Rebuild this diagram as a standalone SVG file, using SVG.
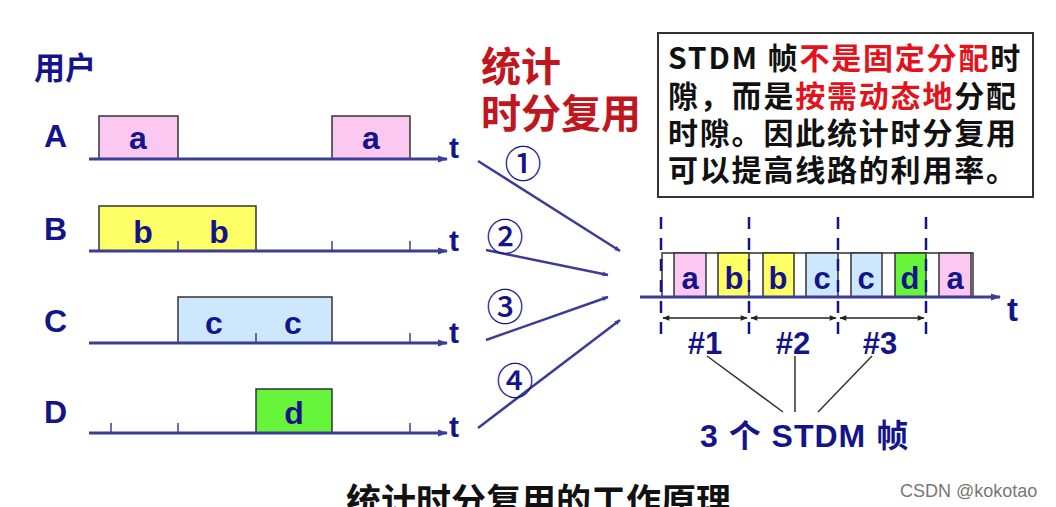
<svg xmlns="http://www.w3.org/2000/svg" width="1056" height="507" viewBox="0 0 1056 507">
<defs>
<style>
.lbl{font-family:"Liberation Sans","Noto Sans CJK SC",sans-serif;font-weight:bold;fill:#14148a}
.cjk{font-family:"Noto Sans CJK SC","Liberation Sans",sans-serif;font-weight:bold}
.axis{stroke:#3c3c96;stroke-width:3;fill:none}
.tick{stroke:#3c3c96;stroke-width:1.5}
.slot{stroke:#333;stroke-width:1.5}
.pink{fill:#fbc8f2}
.yel{fill:#ffff66}
.blu{fill:#cde8fc}
.grn{fill:#66f53a}
.wht{fill:#fff}
.conn{stroke:#3c3c96;stroke-width:2.5;fill:none}
.dash{stroke:#14148a;stroke-width:2.5;stroke-dasharray:12 9}
.dim{stroke:#222;stroke-width:1.3}
.lead{stroke:#333;stroke-width:1.5}
.circ{font-family:"Noto Sans CJK SC","DejaVu Sans",sans-serif;font-weight:500;fill:#14148a;font-size:37px}
.note{font-size:30px;letter-spacing:1.8px;fill:#111}
</style>
<marker id="ah" viewBox="0 0 10 10" refX="9" refY="5" markerWidth="6" markerHeight="6" orient="auto-start-reverse" markerUnits="userSpaceOnUse">
<path d="M0,1 L10,5 L0,9 z" fill="#3c3c96"/>
</marker>
<marker id="ah2" viewBox="0 0 10 10" refX="9" refY="5" markerWidth="14" markerHeight="10" orient="auto" markerUnits="userSpaceOnUse">
<path d="M0,1.5 L10,5 L0,8.5 z" fill="#3c3c96"/>
</marker>
<marker id="da" viewBox="0 0 10 10" refX="9" refY="5" markerWidth="9" markerHeight="7" orient="auto-start-reverse" markerUnits="userSpaceOnUse">
<path d="M0,1 L10,5 L0,9 z" fill="#222"/>
</marker>
</defs>
<rect width="1056" height="507" fill="#fff"/>

<text class="cjk" x="34" y="79" font-size="31" fill="#14148a">用户</text>

<g id="userA">
<text class="lbl" x="44" y="147" font-size="32">A</text>
<rect class="slot pink" x="99" y="116" width="79" height="43"/>
<rect class="slot pink" x="332" y="116" width="78" height="43"/>
<text class="lbl" x="138" y="149" font-size="32" text-anchor="middle">a</text>
<text class="lbl" x="371" y="149" font-size="32" text-anchor="middle">a</text>
<line class="axis" x1="89" y1="159" x2="447" y2="159" marker-end="url(#ah2)"/>
<text class="lbl" x="449" y="158" font-size="30">t</text>
</g>

<g id="userB">
<text class="lbl" x="44" y="240" font-size="32">B</text>
<rect class="slot yel" x="99" y="206" width="157" height="45"/>
<text class="lbl" x="143" y="243" font-size="32" text-anchor="middle">b</text>
<text class="lbl" x="219" y="243" font-size="32" text-anchor="middle">b</text>
<line class="tick" x1="178" y1="241" x2="178" y2="251"/>
<line class="tick" x1="332" y1="241" x2="332" y2="251"/>
<line class="tick" x1="410" y1="241" x2="410" y2="251"/>
<line class="axis" x1="89" y1="251" x2="447" y2="251" marker-end="url(#ah2)"/>
<text class="lbl" x="449" y="251" font-size="30">t</text>
</g>

<g id="userC">
<text class="lbl" x="44" y="332" font-size="32">C</text>
<rect class="slot blu" x="178" y="297" width="154" height="46"/>
<text class="lbl" x="214" y="334" font-size="32" text-anchor="middle">c</text>
<text class="lbl" x="293" y="334" font-size="32" text-anchor="middle">c</text>
<line class="tick" x1="256" y1="333" x2="256" y2="343"/>
<line class="tick" x1="410" y1="333" x2="410" y2="343"/>
<line class="axis" x1="89" y1="343" x2="447" y2="343" marker-end="url(#ah2)"/>
<text class="lbl" x="449" y="343" font-size="30">t</text>
</g>

<g id="userD">
<text class="lbl" x="44" y="423" font-size="32">D</text>
<rect class="slot grn" x="256" y="389" width="76" height="44"/>
<text class="lbl" x="294" y="424" font-size="32" text-anchor="middle">d</text>
<line class="tick" x1="111" y1="423" x2="111" y2="433"/>
<line class="tick" x1="178" y1="423" x2="178" y2="433"/>
<line class="tick" x1="410" y1="423" x2="410" y2="433"/>
<line class="axis" x1="89" y1="433" x2="447" y2="433" marker-end="url(#ah2)"/>
<text class="lbl" x="449" y="437" font-size="30">t</text>
</g>

<g id="title">
<text class="cjk" x="481" y="81" font-size="40" fill="#c0161e">统计</text>
<text class="cjk" x="481" y="128" font-size="40" fill="#c0161e">时分复用</text>
</g>

<g id="connectors">
<line class="conn" x1="478" y1="161" x2="620" y2="251" marker-end="url(#ah)"/>
<line class="conn" x1="486" y1="250" x2="608" y2="275" marker-end="url(#ah)"/>
<line class="conn" x1="486" y1="340" x2="608" y2="297" marker-end="url(#ah)"/>
<line class="conn" x1="478" y1="428" x2="620" y2="320" marker-end="url(#ah)"/>
<text class="circ" x="523" y="178" text-anchor="middle">①</text>
<text class="circ" x="505" y="251" text-anchor="middle">②</text>
<text class="circ" x="505" y="321" text-anchor="middle">③</text>
<text class="circ" x="515" y="395" text-anchor="middle">④</text>
<line class="lead" x1="707" y1="356" x2="783" y2="412"/>
<line class="lead" x1="795" y1="356" x2="795" y2="412"/>
<line class="lead" x1="872" y1="356" x2="818" y2="412"/>
</g>

<g id="note">
<rect x="658" y="33" width="375" height="164" fill="#fff" stroke="#333" stroke-width="2"/>
<text class="cjk note" x="668" y="69">STDM 帧<tspan fill="#e3121b">不是固定分配</tspan>时</text>
<text class="cjk note" x="668" y="107">隙，而是<tspan fill="#e3121b">按需动态地</tspan>分配</text>
<text class="cjk note" x="668" y="144">时隙。因此统计时分复用</text>
<text class="cjk note" x="668" y="181">可以提高线路的利用率。</text>
</g>

<g id="stdm">
<rect class="slot wht" x="662" y="253" width="311" height="44"/>
<rect class="slot pink" x="674" y="253" width="32" height="44"/>
<rect class="slot yel" x="718" y="253" width="31" height="44"/>
<rect class="slot yel" x="763" y="253" width="31" height="44"/>
<rect class="slot blu" x="806" y="253" width="32" height="44"/>
<rect class="slot blu" x="851" y="253" width="31" height="44"/>
<rect class="slot grn" x="895" y="253" width="31" height="44"/>
<rect class="slot pink" x="939" y="253" width="32" height="44"/>
<text class="lbl" x="690" y="289" font-size="31" text-anchor="middle">a</text>
<text class="lbl" x="734" y="289" font-size="31" text-anchor="middle">b</text>
<text class="lbl" x="778" y="289" font-size="31" text-anchor="middle">b</text>
<text class="lbl" x="822" y="289" font-size="31" text-anchor="middle">c</text>
<text class="lbl" x="866" y="289" font-size="31" text-anchor="middle">c</text>
<text class="lbl" x="910" y="289" font-size="31" text-anchor="middle">d</text>
<text class="lbl" x="955" y="289" font-size="31" text-anchor="middle">a</text>
<line class="axis" x1="640" y1="297" x2="1000" y2="297" marker-end="url(#ah2)"/>
<text class="lbl" x="1007" y="321" font-size="33">t</text>
<line class="dash" x1="661" y1="217" x2="661" y2="340"/>
<line class="dash" x1="749" y1="217" x2="749" y2="340"/>
<line class="dash" x1="838" y1="217" x2="838" y2="340"/>
<line class="dash" x1="926" y1="217" x2="926" y2="340"/>
<line class="dim" x1="663" y1="318" x2="747" y2="318" marker-start="url(#da)" marker-end="url(#da)"/>
<line class="dim" x1="751" y1="318" x2="836" y2="318" marker-start="url(#da)" marker-end="url(#da)"/>
<line class="dim" x1="840" y1="318" x2="924" y2="318" marker-start="url(#da)" marker-end="url(#da)"/>
<text class="lbl" x="705" y="354" font-size="31" text-anchor="middle">#1</text>
<text class="lbl" x="793" y="354" font-size="31" text-anchor="middle">#2</text>
<text class="lbl" x="880" y="354" font-size="31" text-anchor="middle">#3</text>
</g>

<g id="frames">
<text class="lbl" x="700" y="447" font-size="32" letter-spacing="1">3 <tspan font-family="Noto Sans CJK SC, sans-serif">个</tspan> STDM <tspan font-family="Noto Sans CJK SC, sans-serif">帧</tspan></text>
</g>

<text class="cjk" x="346" y="514" font-size="35" fill="#111">统计时分复用的工作原理</text>
<text x="900" y="497" font-family="Liberation Sans, sans-serif" font-size="18" fill="#777">CSDN @kokotao</text>
</svg>
